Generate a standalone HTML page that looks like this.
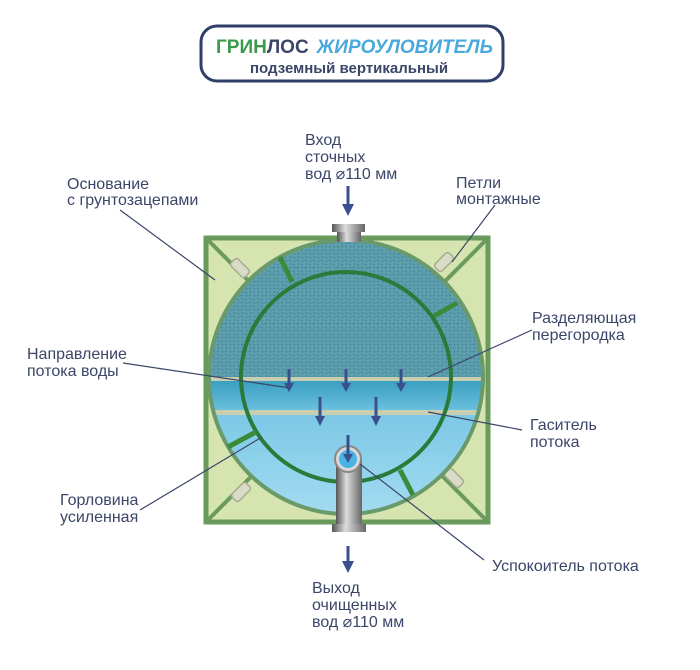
<!DOCTYPE html>
<html><head><meta charset="utf-8"><style>
html,body{margin:0;padding:0;background:#fff;}
svg{display:block}
text{font-family:"Liberation Sans",sans-serif;fill:#3b4668;font-size:16px;}
</style></head><body>
<svg width="700" height="670" viewBox="0 0 700 670" xmlns="http://www.w3.org/2000/svg">
<defs>
<clipPath id="oc"><circle cx="346" cy="377" r="137"/></clipPath>
<pattern id="dots" width="8" height="7" patternUnits="userSpaceOnUse">
<rect width="8" height="7" fill="#5e9fae"/>
<path d="M1 2 l2 -1 M5 5 l1.5 1 M6 1 l1 1.5 M2 5.5 l1 -1" stroke="#3d7a8c" stroke-width="0.9"/>
</pattern>
<linearGradient id="mid" x1="0" y1="0" x2="0" y2="1"><stop offset="0" stop-color="#3a9fc0"/><stop offset="1" stop-color="#6cc0df"/></linearGradient>
<linearGradient id="low" x1="0" y1="0" x2="0" y2="1"><stop offset="0" stop-color="#7cc8e6"/><stop offset="1" stop-color="#a8def2"/></linearGradient>
<linearGradient id="pipe" x1="0" y1="0" x2="1" y2="0"><stop offset="0" stop-color="#555"/><stop offset="0.4" stop-color="#ddd"/><stop offset="1" stop-color="#666"/></linearGradient>
</defs>
<rect x="201" y="26" width="302" height="55" rx="16" fill="#fff" stroke="#2f3f68" stroke-width="3"/>
<text x="216" y="53" style="font-size:19px;font-weight:bold"><tspan fill="#3d9a4c">ГРИН</tspan><tspan fill="#3b4668">ЛОС</tspan><tspan dx="8" fill="#4aa9dc" font-style="italic">ЖИРОУЛОВИТЕЛЬ</tspan></text>
<text x="250" y="73" style="font-size:15px;font-weight:bold">подземный вертикальный</text>
<rect x="206" y="238" width="282" height="284" fill="#d6e4b0" stroke="#6a9a5c" stroke-width="5"/>
<line x1="206" y1="238" x2="488" y2="522" stroke="#6a9a5c" stroke-width="4"/>
<line x1="488" y1="238" x2="206" y2="522" stroke="#6a9a5c" stroke-width="4"/>
<g fill="#d9dcc4" stroke="#a8ab96" stroke-width="1.5">
<rect x="235" y="258" width="10" height="20" rx="3" transform="rotate(-45 240 268)"/>
<rect x="439" y="252" width="10" height="20" rx="3" transform="rotate(45 444 262)"/>
<rect x="236" y="482" width="10" height="20" rx="3" transform="rotate(45 241 492)"/>
<rect x="449" y="468" width="10" height="20" rx="3" transform="rotate(-45 454 478)"/>
</g>
<g clip-path="url(#oc)">
<rect x="200" y="230" width="300" height="148" fill="url(#dots)"/>
<rect x="200" y="381" width="300" height="30" fill="url(#mid)"/>
<rect x="200" y="415" width="300" height="110" fill="url(#low)"/>
<rect x="200" y="377" width="300" height="4" fill="#c7cfb0"/>
<rect x="200" y="410" width="300" height="5" fill="#c7cfb0"/>
</g>
<circle cx="346" cy="377" r="137" fill="none" stroke="#6a9a6a" stroke-width="4"/>
<circle cx="346" cy="377" r="105" fill="none" stroke="#2a7a3a" stroke-width="4"/>
<g stroke="#3a8a3a" stroke-width="5">
<line x1="280" y1="257" x2="292" y2="282"/>
<line x1="457" y1="303" x2="434" y2="316"/>
<line x1="228" y1="447" x2="256" y2="432"/>
<line x1="400" y1="470" x2="413" y2="495"/>
</g>
<rect x="337" y="230" width="24" height="12" fill="url(#pipe)"/>
<rect x="332" y="224" width="33" height="8" fill="url(#pipe)"/>
<rect x="336" y="460" width="26" height="68" fill="url(#pipe)"/>
<rect x="332" y="524" width="34" height="8" fill="url(#pipe)"/>
<circle cx="348" cy="459" r="13" fill="#d8d8d8" stroke="#888" stroke-width="2"/>
<circle cx="348" cy="459" r="9" fill="#4ab3e6"/>
<g stroke="#3a4f8e" stroke-width="3" fill="#3a4f8e">
<line x1="289" y1="369" x2="289" y2="384"/><path d="M284 383 L294 383 L289 392Z" stroke="none"/>
<line x1="346" y1="369" x2="346" y2="384"/><path d="M341 383 L351 383 L346 392Z" stroke="none"/>
<line x1="401" y1="369" x2="401" y2="384"/><path d="M396 383 L406 383 L401 392Z" stroke="none"/>
<line x1="320" y1="397" x2="320" y2="417"/><path d="M315 416 L325 416 L320 426Z" stroke="none"/>
<line x1="376" y1="397" x2="376" y2="417"/><path d="M371 416 L381 416 L376 426Z" stroke="none"/>
<line x1="348" y1="435" x2="348" y2="455"/><path d="M343 454 L353 454 L348 463Z" stroke="none"/>
<line x1="348" y1="186" x2="348" y2="205"/><path d="M342 204 L354 204 L348 216Z" stroke="none"/>
<line x1="348" y1="546" x2="348" y2="562"/><path d="M342 561 L354 561 L348 573Z" stroke="none"/>
</g>
<g stroke="#3b4668" stroke-width="1.2">
<line x1="120" y1="210" x2="215" y2="280"/>
<line x1="495" y1="205" x2="452" y2="262"/>
<line x1="532" y1="330" x2="428" y2="377"/>
<line x1="123" y1="363" x2="290" y2="388"/>
<line x1="522" y1="430" x2="428" y2="412"/>
<line x1="140" y1="510" x2="262" y2="437"/>
<line x1="484" y1="560" x2="360" y2="464"/>
</g>
<text x="305" y="145">Вход</text>
<text x="305" y="162">сточных</text>
<text x="305" y="179">вод ⌀110 мм</text>
<text x="67" y="189">Основание</text>
<text x="67" y="205">с грунтозацепами</text>
<text x="456" y="188">Петли</text>
<text x="456" y="204">монтажные</text>
<text x="532" y="323">Разделяющая</text>
<text x="532" y="340">перегородка</text>
<text x="27" y="359">Направление</text>
<text x="27" y="376">потока воды</text>
<text x="530" y="430">Гаситель</text>
<text x="530" y="447">потока</text>
<text x="60" y="505">Горловина</text>
<text x="60" y="522">усиленная</text>
<text x="492" y="571">Успокоитель потока</text>
<text x="312" y="593">Выход</text>
<text x="312" y="610">очищенных</text>
<text x="312" y="627">вод ⌀110 мм</text>
</svg>
</body></html>
